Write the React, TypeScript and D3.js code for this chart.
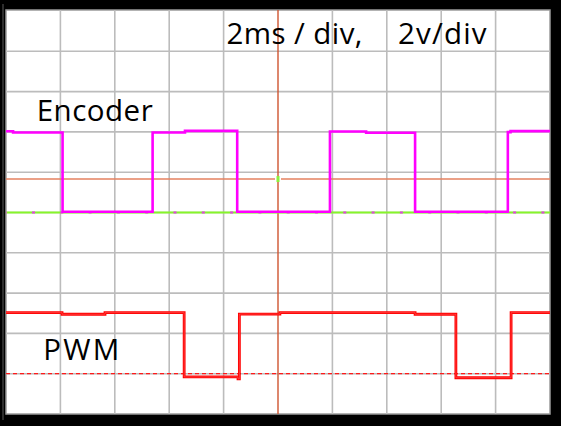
import React from "react";
import * as d3 from "d3";

// Time axis in ms (2 ms / div, 10 divisions), voltage in V (2 V / div, 10 divisions)
const timeDomain = [0, 20];
const voltDomain = [-10, 10];
const gridTimes = [2, 4, 6, 8, 12, 14, 16, 18];
const gridVolts = [-8, -6, -4, -2, 0, 2, 4, 6, 8];

// Encoder trace (step after): time ms, volts
const encoderT = [0, 0.26, 2.08, 5.39, 6.58, 8.5, 11.91, 13.24, 15.04, 18.45, 18.55, 20];
const encoderV = [4.03, 3.97, 0.04, 3.97, 4.05, 0.04, 4.02, 3.96, 0.04, 3.99, 4.04, 4.04];

// PWM trace (step after)
const pwmT = [0, 2.06, 3.64, 6.55, 8.53, 8.58, 10.07, 15.04, 16.54, 18.57, 20];
const pwmV = [-4.97, -5.05, -4.97, -8.16, -8.26, -5.04, -4.97, -5.05, -8.2, -4.97, -4.97];

// Reference levels
const encoderGround = 0;
const pwmGround = -8;
const triggerLevel = 1.66;
const triggerTime = 10;

const labels = {
  timeDiv: "2ms / div,",
  voltDiv: "2v/div",
  encoder: "Encoder",
  pwm: "PWM",
};

export default function App() {
  const W = 561;
  const H = 426;
  const left = 6, right = 550, top = 11, bottom = 414;
  const x = d3.scaleLinear().domain(timeDomain).range([left, right]);
  const y = d3.scaleLinear().domain(voltDomain).range([bottom, top]);

  const line = d3
    .line<number>()
    .x((_, i) => 0)
    .curve(d3.curveStepAfter);

  const encPath = d3
    .line<number>()
    .x((t) => x(t))
    .y((_, i) => y(encoderV[i]))
    .curve(d3.curveStepAfter)(encoderT) as string;

  const pwmPath = d3
    .line<number>()
    .x((t) => x(t))
    .y((_, i) => y(pwmV[i]))
    .curve(d3.curveStepAfter)(pwmT) as string;

  void line;

  const font = "'Open Sans', 'Noto Sans', sans-serif";

  return (
    <svg
      width={W}
      height={H}
      style={{ position: "absolute", left: 0, top: 0 }}
      xmlns="http://www.w3.org/2000/svg"
    >
      <rect x={0} y={0} width={W} height={H} fill="#000" />
      <line x1={3} x2={3} y1={4} y2={420} stroke="#3c3c3c" strokeWidth={1.5} />
      <rect
        x={left}
        y={top - 1}
        width={right - left}
        height={bottom - top + 1}
        fill="#fff"
        stroke="#9a9a9a"
        strokeWidth={1.5}
      />
      {/* grid */}
      {gridTimes.map((t) => (
        <line key={"gx" + t} x1={x(t)} x2={x(t)} y1={top - 1} y2={bottom} stroke="#bcbcbc" strokeWidth={1.6} />
      ))}
      {gridVolts.map((v) => (
        <line key={"gy" + v} x1={left} x2={right} y1={y(v)} y2={y(v)} stroke="#bcbcbc" strokeWidth={1.6} />
      ))}

      {/* trigger level line (orange) with gap at center */}
      <line x1={left} x2={x(triggerTime) - 3} y1={y(triggerLevel)} y2={y(triggerLevel)} stroke="#e5805f" strokeWidth={1.4} />
      <line x1={x(triggerTime) + 3} x2={right} y1={y(triggerLevel)} y2={y(triggerLevel)} stroke="#e5805f" strokeWidth={1.4} />
      {/* trigger time line */}
      <line x1={x(triggerTime)} x2={x(triggerTime)} y1={top - 1} y2={bottom} stroke="#cf5430" strokeWidth={1.4} />
      <rect x={x(triggerTime) - 1.5} y={y(triggerLevel) - 3} width={3} height={6} fill="#8cf23c" />

      {/* encoder ground (green with magenta dashes) */}
      <line x1={left} x2={right} y1={y(encoderGround)} y2={y(encoderGround)} stroke="#86f52a" strokeWidth={1.8} />
      <line
        x1={left}
        x2={right}
        y1={y(encoderGround)}
        y2={y(encoderGround)}
        stroke="#e040e0"
        strokeWidth={1.8}
        strokeDasharray="3,25.3"
        strokeDashoffset={-26}
      />

      {/* PWM ground dashed red */}
      <line
        x1={left}
        x2={right}
        y1={y(pwmGround)}
        y2={y(pwmGround)}
        stroke="#ff1a1a"
        strokeWidth={1.2}
        strokeDasharray="4,3"
      />

      {/* traces */}
      <path d={encPath} fill="none" stroke="#ff00ff" strokeWidth={2.6} />
      <path d={pwmPath} fill="none" stroke="#ff0000" strokeWidth={2.8} />
      <path d={pwmPath} fill="none" stroke="#ff9a9a" strokeWidth={0.6} opacity={0.6} />

      {/* labels */}
      <text x={226.5} y={44.3} fontFamily={font} fontSize={29.5} fill="#000" textLength={136} lengthAdjust="spacing">
        {labels.timeDiv}
      </text>
      <text x={398} y={44.3} fontFamily={font} fontSize={29.5} fill="#000" textLength={88.5} lengthAdjust="spacing">
        {labels.voltDiv}
      </text>
      <text x={36.7} y={120.7} fontFamily={font} fontSize={29.5} fill="#000" textLength={116} lengthAdjust="spacing">
        {labels.encoder}
      </text>
      <text x={43.3} y={359.7} fontFamily={font} fontSize={29.5} fill="#000" textLength={76} lengthAdjust="spacing">
        {labels.pwm}
      </text>
    </svg>
  );
}
